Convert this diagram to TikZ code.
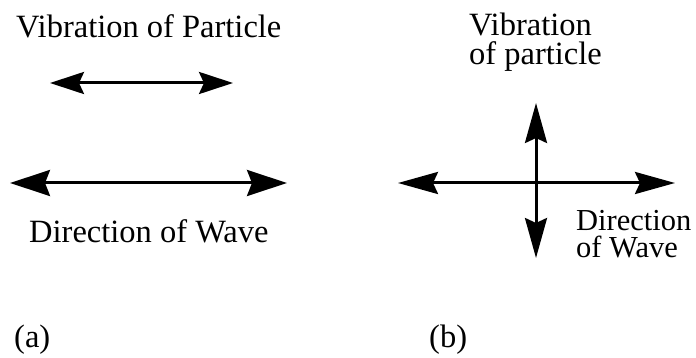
\documentclass[tikz,border=0pt]{standalone}
\usepackage{fontspec}
\setmainfont{Liberation Serif}
\usetikzlibrary{arrows.meta}

\tikzset{
    label text/.style={inner sep=0pt, anchor=base west, align=left, font=\fontsize{32.5}{29}\selectfont},
    wave arrow/.style={line width=3pt, {Stealth[length=#1, width=22pt, inset=5pt]}-{Stealth[length=#1, width=22pt, inset=5pt]}},
    wave arrow/.default=40pt
}

\begin{document}
\begin{tikzpicture}[x=1pt, y=-1pt]
    \useasboundingbox (0,0) rectangle (696,358);
    % (a) longitudinal
    \coordinate (VL) at (50,83);  \coordinate (VR) at (233,83);
    \coordinate (DL) at (10,183); \coordinate (DR) at (287,183);
    \draw[wave arrow=34pt] (VL) -- (VR);
    \draw[wave arrow, {Stealth[length=40pt, width=26pt, inset=5pt]}-{Stealth[length=40pt, width=26pt, inset=5pt]}] (DL) -- (DR);
    \node[label text] (vibA) at (16,38) {Vibration of Particle};
    \node[label text] (dirA) at (29,242) {Direction of Wave};
    \node[label text] (capA) at (14,347) {(a)};
    % (b) transverse
    \coordinate (HL) at (398,183); \coordinate (HR) at (675,183);
    \coordinate (VT) at (536,103); \coordinate (VB) at (536,258);
    \draw[wave arrow] (HL) -- (HR);
    \draw[wave arrow] (VB) -- (VT);
    \node[label text] (vibB) at (469,65) {Vibration\\of particle};
    \node[label text, font=\fontsize{30.5}{28}\selectfont] (dirB) at (576,258) {Direction\\of Wave};
    \node[label text] (capB) at (429,347) {(b)};
\end{tikzpicture}
\end{document}
